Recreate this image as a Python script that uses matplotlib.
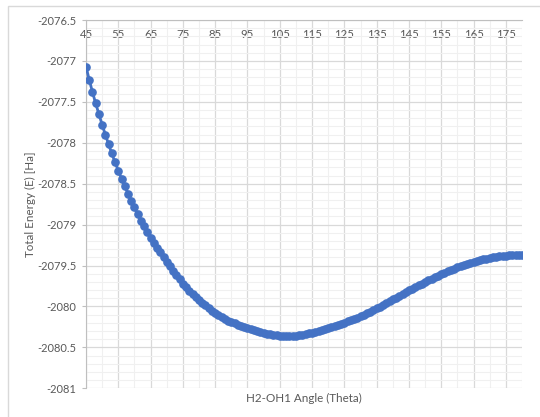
import matplotlib
matplotlib.use("Agg")
import matplotlib.pyplot as plt
from matplotlib.ticker import MultipleLocator, FuncFormatter
from matplotlib.patches import Rectangle

# angle in degrees, one point per degree
theta = list(range(45, 181))

# total energy (Ha)
energy = [
    -2077.07, -2077.23, -2077.38, -2077.52, -2077.65, -2077.78, -2077.90, -2078.02, -2078.13, -2078.24,
    -2078.34, -2078.44, -2078.53, -2078.62, -2078.71, -2078.79, -2078.87, -2078.95, -2079.02, -2079.09,
    -2079.16, -2079.22, -2079.28, -2079.34, -2079.40, -2079.455, -2079.511, -2079.566, -2079.619, -2079.670,
    -2079.720, -2079.764, -2079.806, -2079.846, -2079.884, -2079.920, -2079.955, -2079.988, -2080.020, -2080.051,
    -2080.080, -2080.106, -2080.130, -2080.152, -2080.172, -2080.190, -2080.206, -2080.221, -2080.235, -2080.249,
    -2080.262, -2080.276, -2080.289, -2080.301, -2080.312, -2080.322, -2080.331, -2080.339, -2080.346, -2080.352,
    -2080.356, -2080.359, -2080.360, -2080.360, -2080.358, -2080.355, -2080.350, -2080.344, -2080.337, -2080.329,
    -2080.320, -2080.311, -2080.301, -2080.290, -2080.279, -2080.267, -2080.254, -2080.241, -2080.227, -2080.213,
    -2080.198, -2080.183, -2080.168, -2080.152, -2080.135, -2080.118, -2080.100, -2080.081, -2080.062, -2080.042,
    -2080.022, -2080.001, -2079.980, -2079.958, -2079.936, -2079.914, -2079.892, -2079.870, -2079.848, -2079.826,
    -2079.804, -2079.782, -2079.761, -2079.740, -2079.720, -2079.700, -2079.680, -2079.661, -2079.642, -2079.623,
    -2079.605, -2079.587, -2079.570, -2079.553, -2079.537, -2079.521, -2079.506, -2079.492, -2079.479, -2079.467,
    -2079.456, -2079.445, -2079.435, -2079.425, -2079.415, -2079.406, -2079.398, -2079.391, -2079.386, -2079.382,
    -2079.378, -2079.375, -2079.373, -2079.372, -2079.371, -2079.371,
]

x_ticks = list(range(45, 180, 10))
X_LABEL = "H2-OH1 Angle (Theta)"
Y_LABEL = "Total Energy (E) [Ha]"

BLUE = "#4472C4"
TEXT = "#595959"

plt.rcParams["font.family"] = ["Lato", "DejaVu Sans"]

fig = plt.figure(figsize=(5.4, 4.17), dpi=100)
fig.patches.append(Rectangle((8 / 540, -0.1), 1.2, 1.1 - 6.5 / 417, transform=fig.transFigure,
                             fill=False, edgecolor="#D9D9D9", linewidth=1))
ax = fig.add_axes([86 / 540, 1 - 388.3 / 417, (522 - 86) / 540, (388.3 - 20) / 417])

ax.plot(theta, energy, color=BLUE, linewidth=2, marker="o", markersize=5.2,
        markerfacecolor=BLUE, markeredgecolor=BLUE, zorder=3)

ax.set_xlim(45, 180)
ax.set_ylim(-2081, -2076.5)
ax.set_xticks(x_ticks)
ax.xaxis.set_minor_locator(MultipleLocator(5))
ax.yaxis.set_major_locator(MultipleLocator(0.5))
ax.yaxis.set_minor_locator(MultipleLocator(0.1))
ax.yaxis.set_major_formatter(FuncFormatter(lambda v, p: f"{v:g}"))

ax.grid(which="major", color="#D9D9D9", linewidth=0.9)
ax.grid(which="minor", color="#F0F0F0", linewidth=0.8)
ax.set_axisbelow(True)

for s in ["right", "bottom"]:
    ax.spines[s].set_visible(False)
ax.spines["top"].set_color("#BFBFBF")
ax.spines["left"].set_color("#BFBFBF")

ax.xaxis.set_ticks_position("top")
ax.tick_params(axis="x", which="both", length=0, labelsize=8.2, labelcolor=TEXT, pad=-14.5)
ax.tick_params(axis="y", which="major", length=3, color="#BFBFBF", labelsize=8.0, labelcolor=TEXT, pad=4)
ax.tick_params(axis="y", which="minor", length=0)

fig.text(30 / 540, 1 - 204 / 417, Y_LABEL, rotation=90, ha="center", va="center",
         fontsize=8.4, color=TEXT)
fig.text((86 + 522) / 2 / 540, 1 - 398 / 417, X_LABEL, ha="center", va="center",
         fontsize=8.4, color=TEXT)

fig.savefig("out.png", dpi=100)
